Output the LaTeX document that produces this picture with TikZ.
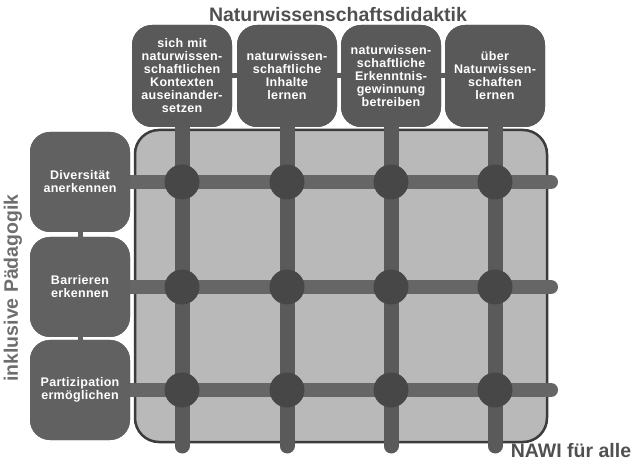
\documentclass[tikz,border=0pt]{standalone}
\usepackage{fontspec}
\setmainfont{Liberation Sans}
\newfontfamily\boxfont[LetterSpace=2.5]{Liberation Sans}
\definecolor{boxc}{HTML}{595959}
\definecolor{lboxc}{HTML}{616161}
\definecolor{areac}{HTML}{B9B9B9}
\definecolor{borderc}{HTML}{3C3C3C}
\definecolor{vlinec}{HTML}{5A5A5A}
\definecolor{hlinec}{HTML}{666666}
\definecolor{dotc}{HTML}{474747}
\definecolor{titlec}{HTML}{505050}
\definecolor{sidec}{HTML}{6E6E6E}
\begin{document}
\begin{tikzpicture}[x=1pt,y=-1pt,
  topbox/.style={fill=boxc, rounded corners=20pt, minimum width=100pt, minimum height=102pt,
    text=white, font=\boxfont\bfseries\fontsize{12.5}{13}\selectfont, align=center, inner sep=0pt, text width=98pt},
  leftbox/.style={topbox, fill=lboxc, minimum height=100pt},
  area/.style={fill=areac, draw=borderc, line width=2.5pt, rounded corners=24pt,
    minimum width=412pt, minimum height=312pt, inner sep=0pt},
  vline/.style={draw=vlinec, line width=15pt, line cap=round},
  hline/.style={draw=hlinec, line width=14pt, line cap=round},
  dot/.style={circle, fill=dotc, minimum size=35pt, inner sep=0pt},
  conn/.style={draw=boxc, line width=5pt},
  lconn/.style={draw=lboxc, line width=5pt},
  heading/.style={text=titlec, font=\bfseries\fontsize{19.5}{22}\selectfont, inner sep=0pt}
]
\useasboundingbox (0,0) rectangle (632,462);

% area
\node[area] (A) at (341,286) {};

% boxes (positions)
\node[topbox] (t1) at (182,76) {sich mit\\naturwissen-\\schaftlichen\\Kontexten\\auseinander-\\setzen};
\node[topbox] (t2) at (287,76) {naturwissen-\\schaftliche\\Inhalte\\lernen};
\node[topbox] (t3) at (391,76) {naturwissen-\\schaftliche\\Erkenntnis-\\gewinnung\\betreiben};
\node[topbox] (t4) at (495,76) {über\\Naturwissen-\\schaften\\lernen};

\node[leftbox] (l1) at (80,182) {Diversität\\anerkennen};
\node[leftbox] (l2) at (80,287) {Barrieren\\erkennen};
\node[leftbox] (l3) at (80,390) {Partizipation\\ermöglichen};

% line ends
\coordinate (v1) at (182,446);
\coordinate (v2) at (287,446);
\coordinate (v3) at (391,446);
\coordinate (v4) at (495,446);
\coordinate (h1) at (551,182);
\coordinate (h2) at (551,287);
\coordinate (h3) at (551,390);

% grid lines
\foreach \i in {1,2,3} \draw[hline] (l\i.east) -- (h\i);
\foreach \i in {1,2,3,4} \draw[vline] (t\i.south) -- (v\i);

% crossings
\foreach \c/\x in {1/182,2/287,3/391,4/495}
  \foreach \r/\y in {1/182,2/287,3/390}
    \node[dot] (d\r\c) at (\x,\y) {};

% connectors between boxes
\draw[conn] (t1.east) -- (t2.west);
\draw[conn] (t2.east) -- (t3.west);
\draw[conn] (t3.east) -- (t4.west);
\draw[lconn] (l1.south) -- (l2.north);
\draw[lconn] (l2.south) -- (l3.north);

% redraw boxes on top
\node[topbox] at (t1) {sich mit\\naturwissen-\\schaftlichen\\Kontexten\\auseinander-\\setzen};
\node[topbox] at (t2) {naturwissen-\\schaftliche\\Inhalte\\lernen};
\node[topbox] at (t3) {naturwissen-\\schaftliche\\Erkenntnis-\\gewinnung\\betreiben};
\node[topbox] at (t4) {über\\Naturwissen-\\schaften\\lernen};
\node[leftbox] at (l1) {Diversität\\anerkennen};
\node[leftbox] at (l2) {Barrieren\\erkennen};
\node[leftbox] at (l3) {Partizipation\\ermöglichen};

% headings
\node[heading] (title) at (338,15) {Naturwissenschaftsdidaktik};
\node[heading, text=sidec, rotate=90] (side) at (13,288) {inklusive Pädagogik};
\node[heading] (nawi) at (571,451) {NAWI für alle};
\end{tikzpicture}
\end{document}
